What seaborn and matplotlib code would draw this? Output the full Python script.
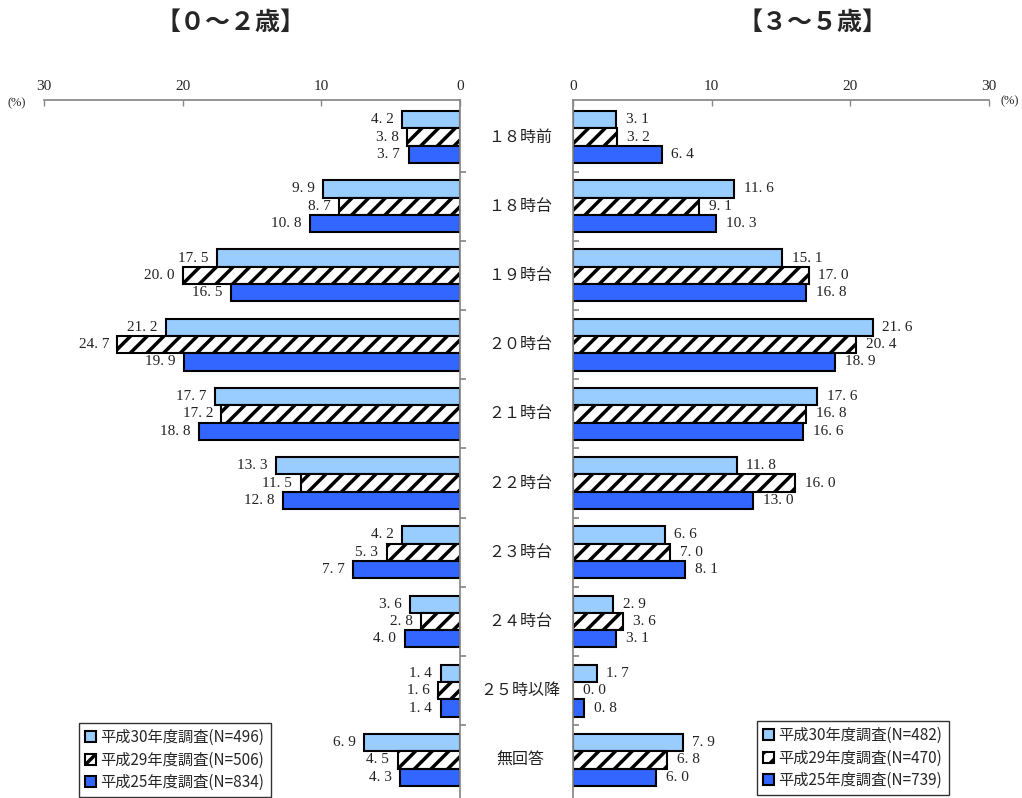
import pandas as pd
import matplotlib.pyplot as plt
import matplotlib.transforms as mtransforms
from matplotlib.patches import Patch
import seaborn as sns

categories = ['１８時前', '１８時台', '１９時台', '２０時台', '２１時台',
              '２２時台', '２３時台', '２４時台', '２５時以降', '無回答']
series = ['平成30年度調査', '平成29年度調査', '平成25年度調査']

# 0-2 years
young_h30 = [4.2, 9.9, 17.5, 21.2, 17.7, 13.3, 4.2, 3.6, 1.4, 6.9]
young_h29 = [3.8, 8.7, 20.0, 24.7, 17.2, 11.5, 5.3, 2.8, 1.6, 4.5]
young_h25 = [3.7, 10.8, 16.5, 19.9, 18.8, 12.8, 7.7, 4.0, 1.4, 4.3]
young_n = [496, 506, 834]

# 3-5 years
old_h30 = [3.1, 11.6, 15.1, 21.6, 17.6, 11.8, 6.6, 2.9, 1.7, 7.9]
old_h29 = [3.2, 9.1, 17.0, 20.4, 16.8, 16.0, 7.0, 3.6, 0.0, 6.8]
old_h25 = [6.4, 10.3, 16.8, 18.9, 16.6, 13.0, 8.1, 3.1, 0.8, 6.0]
old_n = [482, 470, 739]

colors = ['#99CCFF', 'white', '#3366FF']

sns.set_theme(style='white')
plt.rcParams['font.family'] = ['Noto Sans CJK JP', 'DejaVu Sans']
plt.rcParams['hatch.linewidth'] = 2.5
NUM_FONT = 'Liberation Serif'


def long_df(a, b, c):
    rows = []
    for s, vals in zip(series, [a, b, c]):
        for cat, v in zip(categories, vals):
            rows.append({'cat': cat, 'survey': s, 'value': v})
    return pd.DataFrame(rows)


def draw_panel(ax, df, left_side):
    sns.barplot(data=df, y='cat', x='value', hue='survey', hue_order=series,
                order=categories, palette=colors, orient='h', width=0.75,
                saturation=1, edgecolor='black', linewidth=1.5, legend=False,
                ax=ax)
    for p in ax.containers[1]:
        p.set_hatch('//')
        p.set_edgecolor('black')
    # value labels outside the bar end
    off = -6 if left_side else 7
    for cont in ax.containers:
        for p in cont:
            w = p.get_width()
            y = p.get_y() + p.get_height() / 2
            ax.annotate(f'{w:.1f}'.replace('.', '. '), (w, y),
                        xytext=(off, 0), textcoords='offset points',
                        ha='right' if left_side else 'left', va='center',
                        fontsize=11, family=NUM_FONT, color='#222222')
    ax.set_ylim(9.55, -0.535)
    if left_side:
        ax.set_xlim(30, 0)
    else:
        ax.set_xlim(0, 30)
    ax.set_xticks([0, 10, 20, 30])
    ax.xaxis.tick_top()
    ax.tick_params(axis='x', direction='in', length=4, width=1, color='#888888',
                   labelsize=11, pad=5, top=True, bottom=False)
    for lab in ax.get_xticklabels():
        lab.set_family(NUM_FONT)
    ax.set_yticks([i + 0.5 for i in range(9)])
    ax.set_yticklabels([])
    ax.set_xlabel('')
    ax.set_ylabel('')
    for s in ax.spines.values():
        s.set_visible(False)
    ax.spines['top'].set_visible(True)
    ax.spines['top'].set_color('#888888')
    zero = 'right' if left_side else 'left'
    ax.spines[zero].set_visible(True)
    ax.spines[zero].set_color('#888888')
    if left_side:
        ax.yaxis.tick_right()
        ax.tick_params(axis='y', direction='out', length=4, color='#888888',
                       left=False, right=True)
    else:
        ax.tick_params(axis='y', direction='in', length=4, color='#888888',
                       left=True, right=False)


fig = plt.figure(figsize=(10.22, 7.98), dpi=100)
ax1 = fig.add_axes([44 / 1022, 0.0, (460 - 44) / 1022, 1 - 100 / 798])
ax2 = fig.add_axes([573 / 1022, 0.0, (989 - 573) / 1022, 1 - 100 / 798])

draw_panel(ax1, long_df(young_h30, young_h29, young_h25), True)
draw_panel(ax2, long_df(old_h30, old_h29, old_h25), False)

# category labels between the panels
trans = mtransforms.blended_transform_factory(fig.transFigure, ax2.transData)
for i, cat in enumerate(categories):
    fig.text(520 / 1022, i, cat, transform=trans, ha='center', va='center',
             fontsize=11.5, color='#222222')

fig.text(17 / 1022, 1 - 103 / 798, '(%)', ha='center', va='center',
         fontsize=9, family=NUM_FONT)
fig.text(1010 / 1022, 1 - 101 / 798, '(%)', ha='center', va='center',
         fontsize=9, family=NUM_FONT)

fig.text(230 / 1022, 1 - 23 / 798, '【０～２歳】', ha='center', va='center',
         fontsize=18, fontweight='bold')
fig.text(812 / 1022, 1 - 23 / 798, '【３～５歳】', ha='center', va='center',
         fontsize=18, fontweight='bold')


def add_legend(ns, box):
    handles = [Patch(facecolor=c, edgecolor='black', linewidth=1.5,
                     hatch='//' if i == 1 else None)
               for i, c in enumerate(colors)]
    labels = [f'{s}(N={n})' for s, n in zip(series, ns)]
    leg = fig.legend(handles, labels, loc='center', bbox_to_anchor=box,
                     bbox_transform=fig.transFigure, fontsize=11,
                     handlelength=0.7, handleheight=0.7, handletextpad=0.3,
                     labelspacing=0.35, frameon=True, fancybox=False,
                     borderpad=0.4, borderaxespad=0)
    leg.get_frame().set_edgecolor('black')
    leg.get_frame().set_linewidth(1.0)


add_legend(young_n, (175 / 1022, 1 - 760 / 798))
add_legend(old_n, (853 / 1022, 1 - 758 / 798))

fig.savefig('out.png', dpi=100, facecolor='white')
